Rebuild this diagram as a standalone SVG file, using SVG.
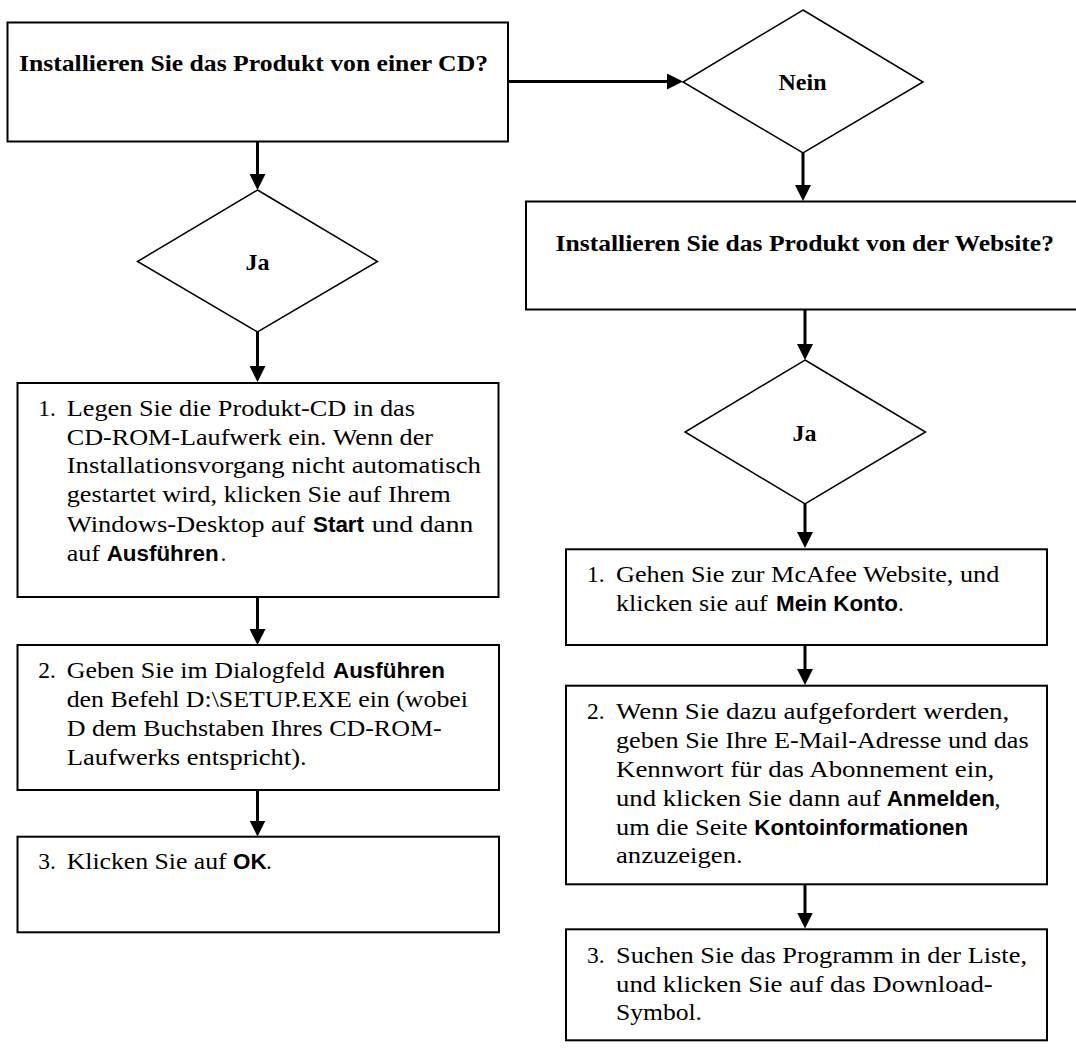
<svg xmlns="http://www.w3.org/2000/svg" width="1076" height="1048" viewBox="0 0 1076 1048">
<style>
.box{fill:#fff;stroke:#000;stroke-width:2}
.dia{fill:#fff;stroke:#000;stroke-width:1.5}
.t{font-family:"Liberation Serif","Times New Roman",serif;font-size:23.5px;fill:#000}
.tb{font-family:"Liberation Serif","Times New Roman",serif;font-size:24px;font-weight:bold;fill:#000}
.b{font-family:"Liberation Sans",Arial,sans-serif;font-size:22.4px;font-weight:bold;fill:#000}
.c{text-anchor:middle}
.conn{fill:none;stroke:#000;stroke-width:3;marker-end:url(#ah)}
</style>
<defs>
<marker id="ah" viewBox="0 0 16 16" refX="2" refY="8" markerWidth="16" markerHeight="16" markerUnits="userSpaceOnUse" orient="auto">
<path d="M0,0 L16,8 L0,16 z" fill="#000"/>
</marker>
</defs>
<rect width="1076" height="1048" fill="#fff"/>

<g id="q-cd">
<rect class="box" x="7.5" y="22.5" width="500.5" height="119"/>
<text class="tb" x="19" y="71" textLength="469" lengthAdjust="spacingAndGlyphs">Installieren Sie das Produkt von einer CD?</text>
</g>

<g id="ja-left">
<polygon class="dia" points="257.5,190 377.5,261.5 257.5,332 137.5,261.5"/>
<text class="tb c" x="257.5" y="270">Ja</text>
</g>

<g id="cd-step1">
<rect class="box" x="17.5" y="383" width="481" height="214"/>
<text class="t" x="38.3" y="415.7">1.</text>
<text class="t" x="66.7" y="415.7" textLength="348.3" lengthAdjust="spacingAndGlyphs">Legen Sie die Produkt-CD in das</text>
<text class="t" x="66.7" y="445" textLength="366.3" lengthAdjust="spacingAndGlyphs">CD-ROM-Laufwerk ein. Wenn der</text>
<text class="t" x="66.7" y="473.3" textLength="414.3" lengthAdjust="spacingAndGlyphs">Installationsvorgang nicht automatisch</text>
<text class="t" x="66.7" y="501.7" textLength="384" lengthAdjust="spacingAndGlyphs">gestartet wird, klicken Sie auf Ihrem</text>
<text class="t" x="66.7" y="531.7" textLength="238.3" lengthAdjust="spacingAndGlyphs">Windows-Desktop auf</text>
<text class="b" x="313" y="531.7">Start</text>
<text class="t" x="371.7" y="531.7" textLength="101.6" lengthAdjust="spacingAndGlyphs">und dann</text>
<text class="t" x="66.7" y="561" textLength="33.3" lengthAdjust="spacingAndGlyphs">auf</text>
<text class="b" x="106.7" y="561">Ausführen</text>
<text class="t" x="220.5" y="561">.</text>
</g>

<g id="cd-step2">
<rect class="box" x="17.5" y="645" width="481.5" height="145"/>
<text class="t" x="38.3" y="678.3">2.</text>
<text class="t" x="66.7" y="678.3" textLength="258.3" lengthAdjust="spacingAndGlyphs">Geben Sie im Dialogfeld</text>
<text class="b" x="333" y="678.3">Ausführen</text>
<text class="t" x="66.7" y="706.7" textLength="401.3" lengthAdjust="spacingAndGlyphs">den Befehl D:\SETUP.EXE ein (wobei</text>
<text class="t" x="66.7" y="736" textLength="375" lengthAdjust="spacingAndGlyphs">D dem Buchstaben Ihres CD-ROM-</text>
<text class="t" x="66.7" y="765" textLength="240" lengthAdjust="spacingAndGlyphs">Laufwerks entspricht).</text>
</g>

<g id="cd-step3">
<rect class="box" x="17.5" y="836.7" width="481.5" height="95.6"/>
<text class="t" x="38.3" y="869.3">3.</text>
<text class="t" x="66.7" y="869.3" textLength="160" lengthAdjust="spacingAndGlyphs">Klicken Sie auf</text>
<text class="b" x="233" y="869.3">OK</text>
<text class="t" x="266" y="869.3">.</text>
</g>

<g id="nein">
<polygon class="dia" points="803,10 923,82 803,153 683,82"/>
<text class="tb c" x="802.5" y="90">Nein</text>
</g>

<g id="q-web">
<rect class="box" x="526" y="201.5" width="560" height="108"/>
<text class="tb" x="555.5" y="251" textLength="498.5" lengthAdjust="spacingAndGlyphs">Installieren Sie das Produkt von der Website?</text>
</g>

<g id="ja-right">
<polygon class="dia" points="805,360 925.5,432 805,504 685,432"/>
<text class="tb c" x="804.5" y="440.5">Ja</text>
</g>

<g id="web-step1">
<rect class="box" x="566" y="549.3" width="481" height="95.7"/>
<text class="t" x="587" y="581.7">1.</text>
<text class="t" x="616" y="581.7" textLength="383.3" lengthAdjust="spacingAndGlyphs">Gehen Sie zur McAfee Website, und</text>
<text class="t" x="616" y="610.7" textLength="151.7" lengthAdjust="spacingAndGlyphs">klicken sie auf</text>
<text class="b" x="776" y="610.7">Mein Konto</text>
<text class="t" x="898" y="610.7">.</text>
</g>

<g id="web-step2">
<rect class="box" x="566" y="685.7" width="481" height="198.6"/>
<text class="t" x="587" y="719">2.</text>
<text class="t" x="616" y="719" textLength="393.3" lengthAdjust="spacingAndGlyphs">Wenn Sie dazu aufgefordert werden,</text>
<text class="t" x="616" y="747.7" textLength="412.7" lengthAdjust="spacingAndGlyphs">geben Sie Ihre E-Mail-Adresse und das</text>
<text class="t" x="616" y="776.7" textLength="378.3" lengthAdjust="spacingAndGlyphs">Kennwort für das Abonnement ein,</text>
<text class="t" x="616" y="806" textLength="265" lengthAdjust="spacingAndGlyphs">und klicken Sie dann auf</text>
<text class="b" x="886.7" y="806">Anmelden</text>
<text class="t" x="994.5" y="806">,</text>
<text class="t" x="616" y="835" textLength="131.7" lengthAdjust="spacingAndGlyphs">um die Seite</text>
<text class="b" x="754.3" y="835">Kontoinformationen</text>
<text class="t" x="616" y="863.3" textLength="126.7" lengthAdjust="spacingAndGlyphs">anzuzeigen.</text>
</g>

<g id="web-step3">
<rect class="box" x="566" y="929.3" width="481" height="111"/>
<text class="t" x="587" y="963.3">3.</text>
<text class="t" x="616" y="963.3" textLength="411" lengthAdjust="spacingAndGlyphs">Suchen Sie das Programm in der Liste,</text>
<text class="t" x="616" y="991.7" textLength="376.7" lengthAdjust="spacingAndGlyphs">und klicken Sie auf das Download-</text>
<text class="t" x="616" y="1020" textLength="86" lengthAdjust="spacingAndGlyphs">Symbol.</text>
</g>

<g id="connectors">
<path class="conn" d="M508,81.5 H669"/>
<path class="conn" d="M257.5,141.5 V176"/>
<path class="conn" d="M257.5,332 V368"/>
<path class="conn" d="M257.5,597 V631"/>
<path class="conn" d="M257.5,790 V822.5"/>
<path class="conn" d="M803,153 V187"/>
<path class="conn" d="M805,309.5 V346"/>
<path class="conn" d="M805,504 V534"/>
<path class="conn" d="M805,645 V671"/>
<path class="conn" d="M805,884.3 V914.5"/>
</g>
</svg>
